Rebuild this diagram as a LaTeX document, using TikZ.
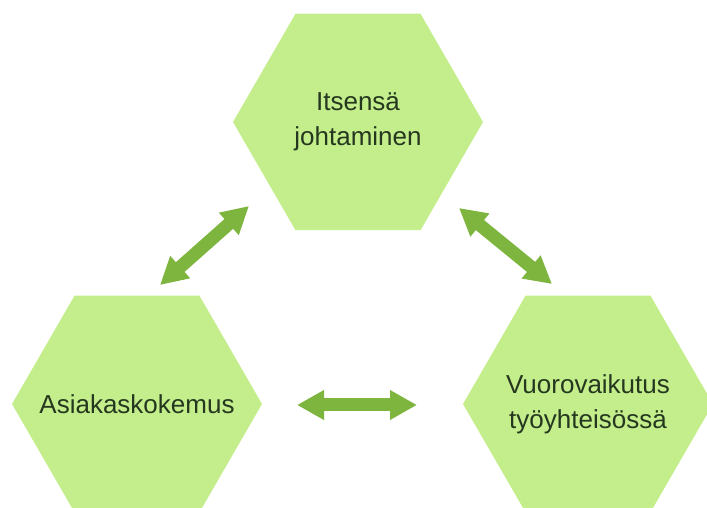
\documentclass[tikz,border=0pt]{standalone}
\usepackage{fontspec}
\setmainfont{Liberation Sans}
\usepackage{tikz}
\usetikzlibrary{shapes.geometric,arrows.meta}
\definecolor{hexfill}{HTML}{C4EE8C}
\definecolor{arrowgreen}{HTML}{7DB53F}
\definecolor{textdark}{HTML}{25381F}

\begin{document}
\begin{tikzpicture}[x=0.5pt,y=0.5pt,
  hexa/.style={regular polygon, regular polygon sides=6,
    fill=hexfill, draw=none, inner sep=0pt, outer sep=0pt, minimum size=125pt},
  hexlabel/.style={text=textdark, align=center, font=\fontsize{13}{17.5}\selectfont},
  link/.style={arrowgreen, line width=6.5pt,
    {Triangle[width=14pt,length=13.5pt]}-{Triangle[width=14pt,length=13.5pt]}}]
\clip (0,0) rectangle (707,508);
\node[hexa,label={[hexlabel]center:Itsensä\\johtaminen}] (itse) at (358,386) {};
\node[hexa,label={[hexlabel]center:Asiakaskokemus}] (asiakas) at (137,104) {};
\node[hexa,label={[hexlabel]center:Vuorovaikutus\\työyhteisössä}] (vuoro) at (588,104) {};
\coordinate (itse-a) at (249,302);
\coordinate (asiakas-i) at (160,223);
\coordinate (itse-v) at (459,300);
\coordinate (vuoro-i) at (552,224);
\coordinate (asiakas-v) at (297,103);
\coordinate (vuoro-a) at (417,103);
\draw[link] (asiakas-i) -- (itse-a);
\draw[link] (itse-v) -- (vuoro-i);
\draw[link] (asiakas-v) -- (vuoro-a);
\end{tikzpicture}
\end{document}
